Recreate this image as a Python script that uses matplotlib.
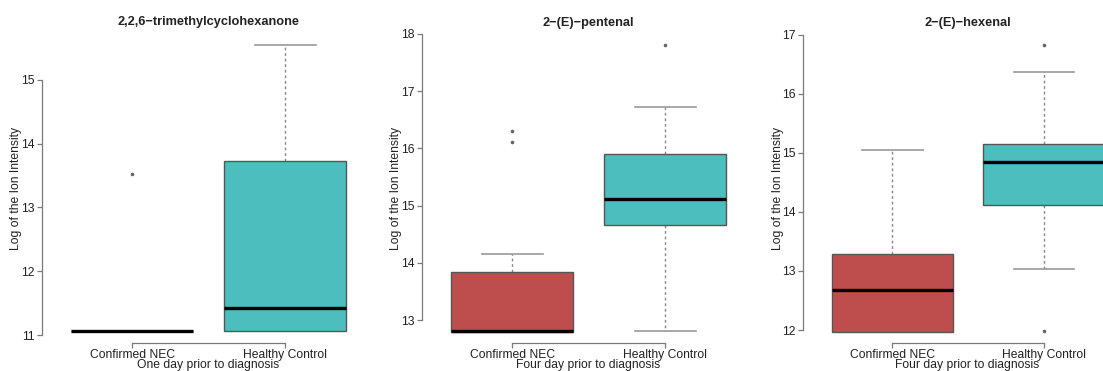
import matplotlib
matplotlib.use("Agg")
import matplotlib.pyplot as plt

plt.rcParams['font.family'] = ['Liberation Sans', 'DejaVu Sans']

W, H = 1103, 371

groups = ['Confirmed NEC', 'Healthy Control']
titles = ['2,2,6\u2212trimethylcyclohexanone', '2\u2212(E)\u2212pentenal', '2\u2212(E)\u2212hexenal']
xlabels = ['One day prior to diagnosis', 'Four day prior to diagnosis', 'Four day prior to diagnosis']

# box stats per panel: (NEC, Healthy)
q1 = [[11.07, 11.06], [12.80, 14.66], [11.97, 14.12]]
med = [[11.07, 11.42], [12.81, 15.11], [12.67, 14.85]]
q3 = [[11.07, 13.73], [13.84, 15.90], [13.29, 15.15]]
whislo = [[11.07, 11.06], [12.80, 12.81], [11.97, 13.03]]
whishi = [[11.07, 15.55], [14.15, 16.72], [15.04, 16.36]]
fliers = [[[13.52], []], [[16.12, 16.30], [17.80]], [[], [16.82, 11.98]]]

yticks = [[11, 12, 13, 14, 15], [13, 14, 15, 16, 17, 18], [12, 13, 14, 15, 16, 17]]
ylims = [(10.88, 15.73), (12.60, 18.0), (11.78, 17.01)]

# axes rectangles in pixels: left, top, right, bottom
rects = [(42, 33, 374, 343), (422, 34, 754, 343), (803, 34, 1132, 343)]

box_colors = ['#BE4E4E', '#4DBEBE']
axis_color = '#7a7a7a'
text_color = '#222222'

fig = plt.figure(figsize=(W / 100, H / 100), dpi=100)

for i in range(3):
    l, t, r, b = rects[i]
    ax = fig.add_axes([l / W, (H - b) / H, (r - l) / W, (b - t) / H])

    stats = []
    for j in range(2):
        stats.append(dict(med=med[i][j], q1=q1[i][j], q3=q3[i][j],
                          whislo=whislo[i][j], whishi=whishi[i][j],
                          fliers=fliers[i][j]))

    # whiskers and staples go under the boxes, like R draws them
    bp = ax.bxp(stats, positions=[1, 2], widths=0.8, capwidths=0.4,
                patch_artist=True,
                boxprops=dict(edgecolor='#555555', linewidth=1.0, zorder=2),
                medianprops=dict(color='black', linewidth=2.4, solid_capstyle='butt', zorder=3),
                whiskerprops=dict(color='#888888', linewidth=1.0, linestyle=(0, (2, 2)), zorder=1),
                capprops=dict(color='#999999', linewidth=1.2, zorder=1),
                flierprops=dict(marker='o', markersize=1.6, markerfacecolor='#666666',
                                markeredgecolor='#666666', linestyle='none'))
    for patch, c in zip(bp['boxes'], box_colors):
        patch.set_facecolor(c)

    ax.set_xlim(0.41, 2.58)
    ax.set_ylim(*ylims[i])

    for side in ['top', 'right']:
        ax.spines[side].set_visible(False)
    ax.spines['left'].set_bounds(yticks[i][0], yticks[i][-1])
    ax.spines['bottom'].set_bounds(1, 2)
    for side in ['left', 'bottom']:
        ax.spines[side].set_color(axis_color)
        ax.spines[side].set_linewidth(0.9)

    ax.set_yticks(yticks[i])
    ax.set_xticks([1, 2])
    ax.set_xticklabels(groups)
    ax.tick_params(axis='both', colors=axis_color, labelcolor=text_color,
                   labelsize=8.7, length=3.5, width=0.9)
    ax.tick_params(axis='x', pad=0.5)
    ax.tick_params(axis='y', pad=2)

    ax.set_title(titles[i], fontsize=9.2, fontweight='bold', color=text_color, pad=5.5)
    ax.set_ylabel('Log of the Ion Intensity', fontsize=8.7, color=text_color)
    ax.yaxis.set_label_coords(-19.5 / (r - l), 0.5)
    ax.set_xlabel(xlabels[i], fontsize=8.7, color=text_color, labelpad=-0.8)

fig.savefig('out.png', dpi=100)
